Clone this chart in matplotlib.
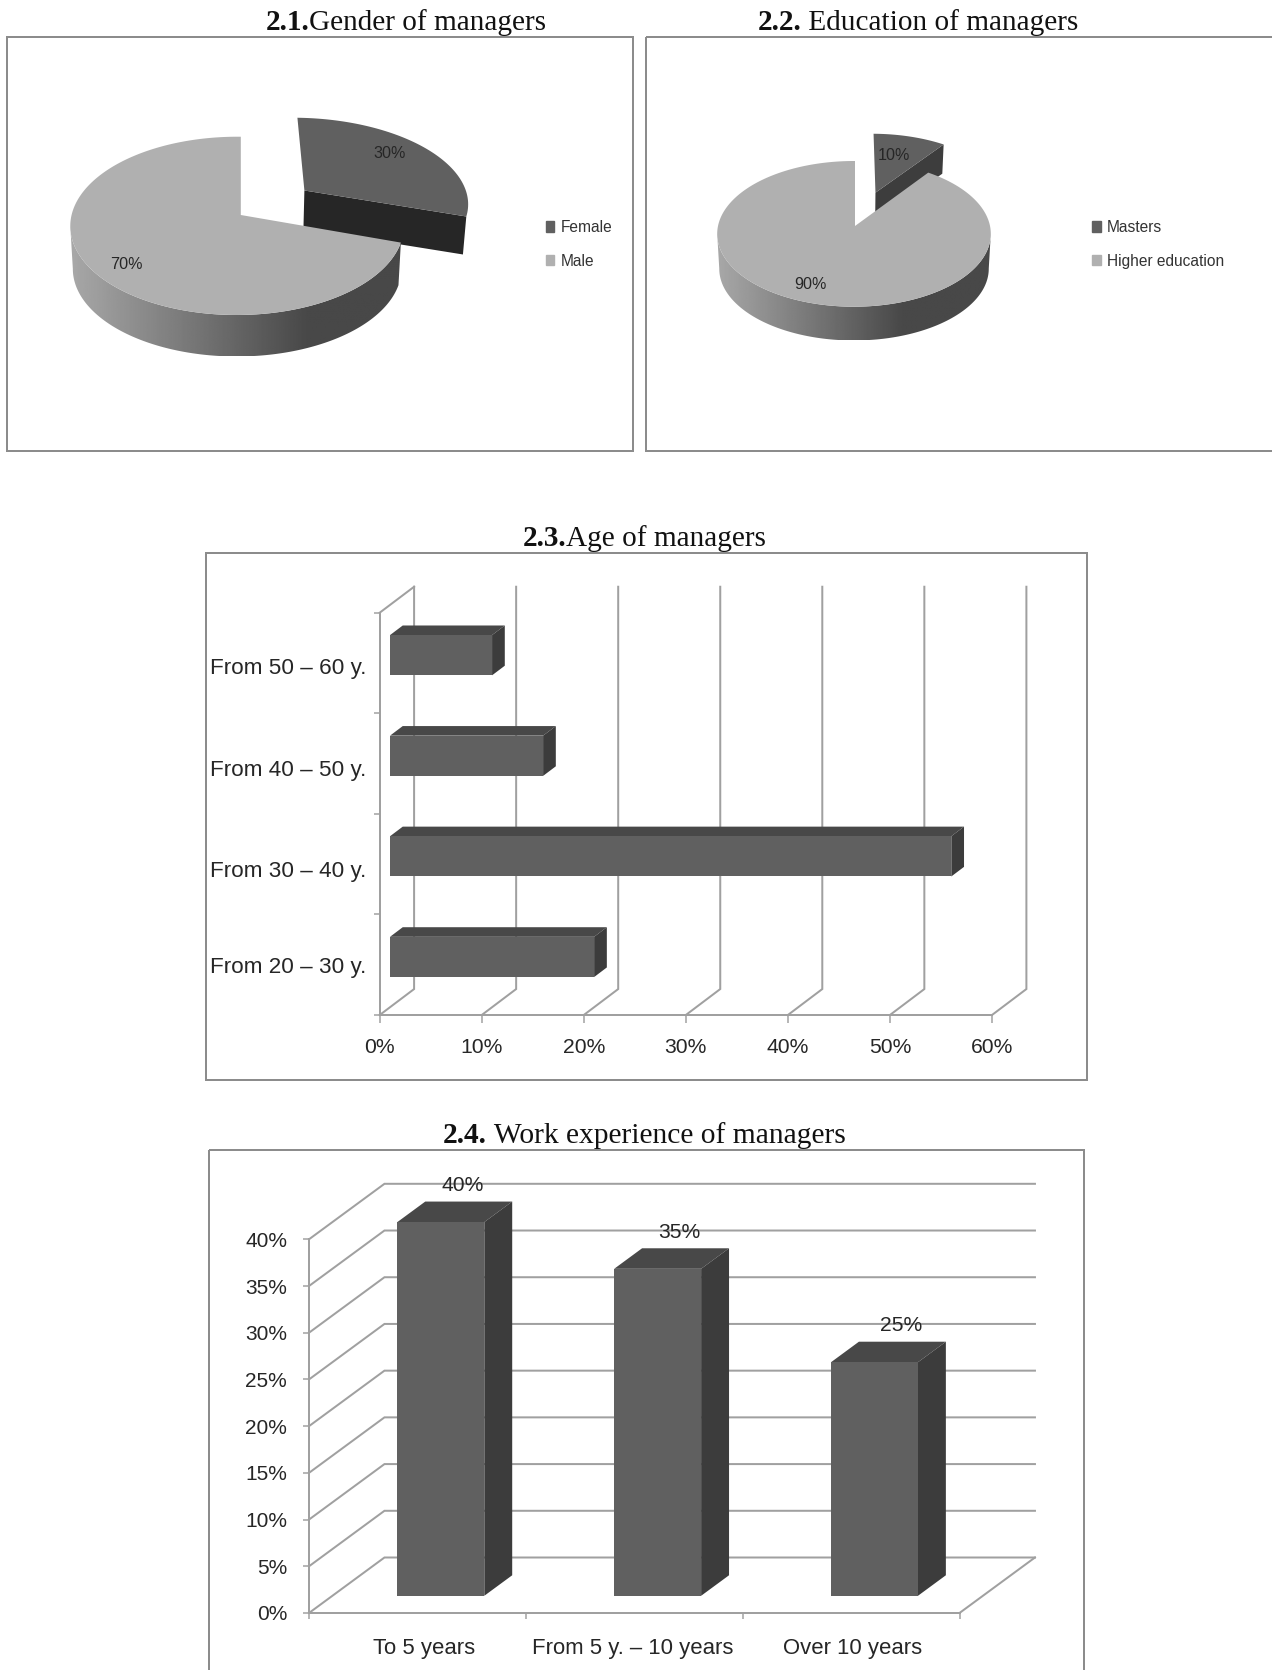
import numpy as np
import matplotlib
matplotlib.use("Agg")
import matplotlib.pyplot as plt
from matplotlib.patches import Patch, Polygon, Rectangle
from matplotlib.ticker import FixedLocator

# ---- data ----
gender_labels = ["Female", "Male"]
gender_shares = [30, 70]
education_labels = ["Masters", "Higher education"]
education_shares = [10, 90]
age_labels = ["From 20 – 30 y.", "From 30 – 40 y.", "From 40 – 50 y.", "From 50 – 60 y."]
age_shares = [20, 55, 15, 10]
age_ticks = [0, 10, 20, 30, 40, 50, 60]
experience_labels = ["To 5 years", "From 5 y. – 10 years", "Over 10 years"]
experience_shares = [40, 35, 25]
experience_ticks = [0, 5, 10, 15, 20, 25, 30, 35, 40]

# ---- styling ----
W, H = 1272, 1670
DPI = 100
SANS = "Liberation Sans"
SERIF = "Liberation Serif"
FRAME = "#8c8c8c"
GRID = "#a0a0a0"
LIGHT = "#b0b0b0"
FACE = "#606060"
SIDE = "#3c3c3c"
TOP = "#484848"
TEXT = "#262626"
PX = 72 / DPI  # one pixel in points

fig = plt.figure(figsize=(W / DPI, H / DPI), dpi=DPI, facecolor="white")
page = fig.add_axes([0, 0, 1, 1], zorder=0)
page.set_xlim(0, W)
page.set_ylim(H, 0)
page.axis("off")


def box_axes(left, top, right, bottom, zorder=2):
    """Axes occupying a rectangle given in page pixels."""
    ax = fig.add_axes([left / W, 1 - bottom / H, (right - left) / W, (bottom - top) / H],
                      zorder=zorder)
    ax.patch.set_alpha(0)
    return ax


def frame(left, top, right, bottom):
    page.add_patch(Rectangle((left, top), right - left, bottom - top, fill=False,
                             edgecolor=FRAME, linewidth=2 * PX, clip_on=True))


def title(bold, regular, center, baseline, size):
    """Centred heading with a bold number followed by regular text."""
    renderer = fig.canvas.get_renderer()
    a = page.text(0, baseline, bold, family=SERIF, weight="bold", size=size,
                  va="baseline", ha="left", color="#111111")
    b = page.text(0, baseline, regular, family=SERIF, size=size,
                  va="baseline", ha="left", color="#111111")
    wa = a.get_window_extent(renderer).width
    wb = b.get_window_extent(renderer).width
    # a leading space is not included in the measured extent
    gap = size / PX * 0.25 if regular.startswith(" ") else 0
    x = center - (wa + wb + gap) / 2
    a.set_x(x)
    b.set_x(x + wa)


def draw_pie(apex, box, shares, labels, geo, legend_xy):
    """Exploded perspective pie; the first share is pulled out of the disc."""
    left, top, right, bottom = box
    ax = box_axes(left, top, right, bottom)
    ax.set_xlim(left - apex[0], right - apex[0])
    ax.set_ylim(apex[1] - bottom, apex[1] - top)
    ax.axis("off")
    k, m, sx, sy = geo["k"], geo["m"], geo["sx"], geo["sy"]

    def project(u, v):
        w = 1 + k * v + m * u
        return sx * u / w, sy * v / w

    end = np.radians(shares[0] / sum(shares) * 360)
    mid = end / 2
    du, dv = geo["explode"] * np.sin(mid), geo["explode"] * np.cos(mid)

    # pulled-out slice
    th = np.linspace(0, end, 80)
    ax_, ay_ = project(du, dv)
    xs, ys = project(np.sin(th) + du, np.cos(th) + dv)
    xs = ax_ + (xs - ax_) * geo["widen"]
    ex, ey = xs[-1], ys[-1]
    s = geo["shrink"]
    d2 = geo["explode_depth"]
    ax.fill([ax_, ex, s * ex, s * ax_], [ay_, ey, s * ey - d2, s * ay_ - d2],
            color=geo["cut"], lw=0, zorder=2)
    ax.fill(np.r_[ax_, xs], np.r_[ay_, ys], color=FACE, lw=0, zorder=3)

    # outer wall of the large slice between its silhouette extremes, shaded left to right
    sweep = np.radians(np.linspace(max(np.degrees(end), 60), 300, 500))
    sx_all, _ = project(np.sin(sweep), np.cos(sweep))
    front = sweep[np.argmax(sx_all):np.argmin(sx_all) + 1]
    wx, wy = project(np.sin(front), np.cos(front))
    bx, by = s * wx, s * wy - geo["depth"]
    wall_x = np.r_[wx, bx[::-1]]
    wall_y = np.r_[wy, by[::-1]]
    ramp = np.interp(np.linspace(0, 1, 256), [0, geo["ramp"], 1], [0xa8, 0x48, 0x48]) / 255
    shade = ax.imshow(ramp[np.newaxis, :], cmap="gray", vmin=0, vmax=1, aspect="auto", zorder=4,
                      extent=[wall_x.min(), wall_x.max(), wall_y.min(), wall_y.max()],
                      interpolation="bilinear")
    outline = Polygon(np.c_[wall_x, wall_y], closed=True, transform=ax.transData)
    shade.set_clip_path(outline)
    ax.set_xlim(left - apex[0], right - apex[0])
    ax.set_ylim(apex[1] - bottom, apex[1] - top)

    # top of the large slice
    th = np.linspace(end, 2 * np.pi, 300)
    xs, ys = project(np.sin(th), np.cos(th))
    ax.fill(np.r_[0, xs], np.r_[0, ys], color=LIGHT, lw=0, zorder=5)

    # value labels
    r0, r1 = geo["label_r"]
    nudge = geo["label_nudge"]
    lx, ly = project(r0 * np.sin(mid) + du, r0 * np.cos(mid) + dv)
    ax.text(lx + nudge[0][0], ly + nudge[0][1], f"{shares[0]}%", family=SANS, size=11.6, color=TEXT,
            ha="center", va="center", zorder=6)
    mid2 = (end + 2 * np.pi) / 2
    lx, ly = project(r1 * np.sin(mid2), r1 * np.cos(mid2))
    ax.text(lx + nudge[1][0], ly + nudge[1][1], f"{shares[1]}%", family=SANS, size=11.6, color=TEXT,
            ha="center", va="center", zorder=6)

    handles = [Patch(color=FACE), Patch(color=LIGHT)]
    ax.legend(handles, labels, loc="center left", bbox_to_anchor=legend_xy,
              bbox_transform=page.transData, frameon=False, borderpad=0, borderaxespad=0,
              prop={"family": SANS, "size": 11.2}, handlelength=0.55, handleheight=0.65,
              handletextpad=0.42, labelspacing=1.2, labelcolor="#333333")


# ---- 2.1 ----
title("2.1.", "Gender of managers", 406, 30, 21.1)
frame(7, 37, 633, 451)
draw_pie((240.8, 215), (7, 37, 633, 451), gender_shares, gender_labels,
         dict(k=0.1217, m=0.022, sx=165.5, sy=87.8, explode=0.496, widen=1.05, shrink=0.985,
              depth=43, explode_depth=38, cut="#262626", ramp=0.72, label_r=(0.70, 0.86),
              label_nudge=((4, 6), (10, -1))),
         (545.5, 244.2))

# ---- 2.2 ----
title("2.2.", " Education of managers", 921.5, 30, 21.05)
frame(645.5, 37, 1300, 451)
draw_pie((855, 226), (645.5, 37, 1272, 451), education_shares, education_labels,
         dict(k=0.1077, m=0.0073, sx=136.0, sy=72.0, explode=0.513, widen=1.0, shrink=0.985,
              depth=35, explode_depth=28, cut="#3d3d3d", ramp=0.68, label_r=(0.62, 0.78),
              label_nudge=((-4, 1), (-9, 0))),
         (1092, 244.2))

# ---- 2.3 horizontal bars ----
title("2.3.", "Age of managers", 644, 546.2, 21.05)
frame(205.6, 553, 1087, 1080)
ax3 = box_axes(379.7, 612.7, 992, 1015)
ax3.set_xlim(age_ticks[0], age_ticks[-1])
ax3.set_ylim(0, len(age_labels))
ddx = 3.37   # depth of the chart box along x, in percent
ddy = 0.258  # depth of the chart box along y, in category bands
for tick in age_ticks:
    ax3.plot([tick, tick + ddx, tick + ddx], [0, ddy, len(age_labels) + ddy], color=GRID,
             lw=2 * PX, clip_on=False, zorder=1, solid_joinstyle="miter")
ax3.plot([0, ddx], [len(age_labels), len(age_labels) + ddy], color=GRID, lw=2 * PX,
         clip_on=False, zorder=1)
front = 0.30  # bars stand this far into the box depth
deep = 0.37   # and are this deep
bar_h = 0.40
y_pos = np.arange(len(age_labels)) + 0.5
x0 = front * ddx
y_off = front * ddy
ax3.barh(y_pos + y_off, age_shares, height=bar_h, left=x0, color=FACE, linewidth=0, zorder=4,
         clip_on=False)
for y, v in zip(y_pos + y_off, age_shares):
    t, b = y + bar_h / 2, y - bar_h / 2
    r = x0 + v
    ax3.fill([x0, r, r + deep * ddx, x0 + deep * ddx],
             [t, t, t + deep * ddy, t + deep * ddy], color=TOP, lw=0, zorder=3, clip_on=False)
    ax3.fill([r, r + deep * ddx, r + deep * ddx, r],
             [t, t + deep * ddy, b + deep * ddy, b], color=SIDE, lw=0, zorder=3, clip_on=False)
for side in ("top", "right"):
    ax3.spines[side].set_visible(False)
for side in ("left", "bottom"):
    ax3.spines[side].set_color(GRID)
    ax3.spines[side].set_linewidth(2 * PX)
ax3.set_xticks(age_ticks, [f"{t}%" for t in age_ticks], family=SANS, size=15.2, color=TEXT)
ax3.set_yticks(np.arange(len(age_labels) + 1))
ax3.set_yticklabels([])
# category names sit slightly below the middle of their bands
ax3.yaxis.set_minor_locator(FixedLocator(y_pos - np.array([0.0, 0.05, 0.04, 0.03])))
ax3.set_yticklabels(age_labels, minor=True, family=SANS, size=16.2, color=TEXT)
ax3.tick_params(axis="x", length=8 * PX, width=1.5 * PX, color=GRID, pad=15 * PX)
ax3.tick_params(axis="y", which="major", length=6 * PX, width=1.5 * PX, color=GRID)
ax3.tick_params(axis="y", which="minor", length=0, pad=13 * PX)
ax3.patch.set_alpha(0)

# ---- 2.4 vertical bars ----
title("2.4.", " Work experience of managers", 648, 1142.8, 21.25)
frame(209, 1149.5, 1084, 1720)
ax4 = box_axes(309, 1239.3, 959.5, 1613)
n = len(experience_labels)
ax4.set_xlim(0, n)
ax4.set_ylim(0, experience_ticks[-1])
bdx = 0.348  # depth of the chart box along x, in category bands
bdy = 5.94   # depth of the chart box along y, in percent
for tick in experience_ticks:
    ax4.plot([0, bdx, n + bdx], [tick, tick + bdy, tick + bdy], color=GRID, lw=2 * PX,
             clip_on=False, zorder=1, solid_joinstyle="miter")
ax4.plot([n, n + bdx], [0, bdy], color=GRID, lw=2 * PX, clip_on=False, zorder=1)
front4 = 0.31
deep4 = 0.37
bar_w = 0.401
centers = np.arange(n) + 0.5 + front4 * bdx
base = front4 * bdy
ax4.bar(centers, experience_shares, width=bar_w, bottom=base, color=FACE, linewidth=0, zorder=4,
        clip_on=False)
for c, v, dx in zip(centers, experience_shares, (22, 22, 27)):
    l, r = c - bar_w / 2, c + bar_w / 2
    t = base + v
    ax4.fill([l, r, r + deep4 * bdx, l + deep4 * bdx],
             [t, t, t + deep4 * bdy, t + deep4 * bdy], color=TOP, lw=0, zorder=3, clip_on=False)
    ax4.fill([r, r + deep4 * bdx, r + deep4 * bdx, r],
             [t, t + deep4 * bdy, base + deep4 * bdy, base], color=SIDE, lw=0, zorder=3, clip_on=False)
    ax4.annotate(f"{v}%", (c, t), xytext=(dx * PX, 36.5 * PX), textcoords="offset points",
                 family=SANS, size=15.2, color=TEXT, ha="center", va="center", zorder=6,
                 annotation_clip=False)
for side in ("top", "right"):
    ax4.spines[side].set_visible(False)
for side in ("left", "bottom"):
    ax4.spines[side].set_color(GRID)
    ax4.spines[side].set_linewidth(2 * PX)
# percent labels sit a touch below their ticks
ax4.set_yticks(experience_ticks, [f"{t}%" for t in experience_ticks], family=SANS, size=15,
               color=TEXT, va="center_baseline")
ax4.set_xticks(np.arange(n + 1))
ax4.set_xticklabels([])
ax4.xaxis.set_minor_locator(FixedLocator(np.arange(n) + 0.5 + np.array([0.029, -0.009, 0.005])))
ax4.set_xticklabels(experience_labels, minor=True, family=SANS, size=15.9, color=TEXT)
ax4.tick_params(axis="y", length=6 * PX, width=1.5 * PX, color=GRID, pad=16 * PX)
ax4.tick_params(axis="x", which="major", length=6 * PX, width=1.5 * PX, color=GRID)
ax4.tick_params(axis="x", which="minor", length=0, pad=25 * PX)
ax4.patch.set_alpha(0)

fig.savefig("out.png", dpi=DPI, facecolor="white")
